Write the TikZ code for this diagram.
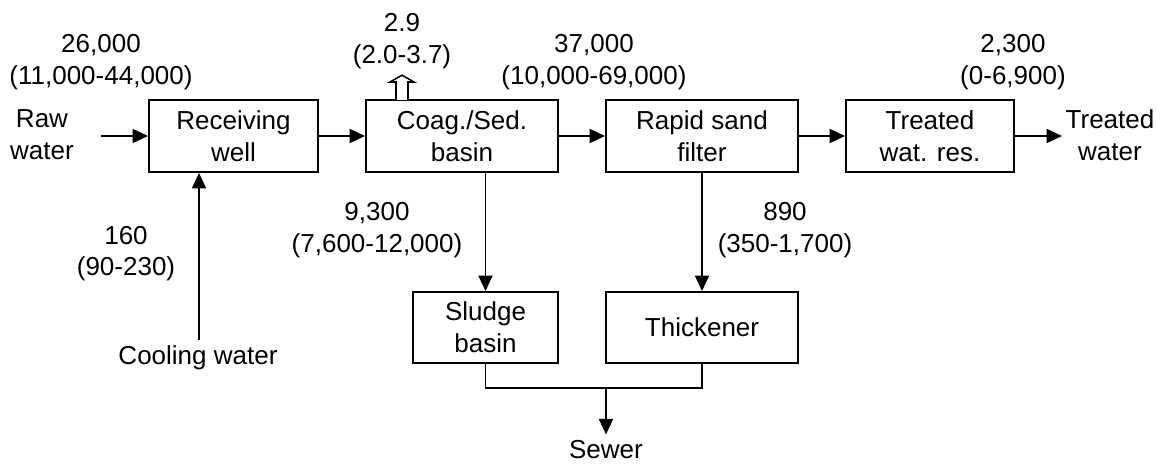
\documentclass[tikz,border=0pt]{standalone}
\usepackage{fontspec}
\setmainfont{Liberation Sans}
\usetikzlibrary{arrows.meta}

\begin{document}
\begin{tikzpicture}[
        font=\fontsize{18.5}{22.7}\selectfont,
        proc/.style={draw, line width=1.4pt, align=center, inner sep=0pt, minimum height=1.8cm},
        lbl/.style={align=center, inner sep=0pt},
        flow/.style={-{Triangle[length=11pt, width=10pt]}, line width=1.3pt}
    ]

        \useasboundingbox (0,0) rectangle (29,11.6);

        \node [proc, minimum width=4.225cm] (recv) at (5.8375, 8.2) {Receiving\\well};
        \node [proc, minimum width=4.8cm] (coag) at (11.55, 8.2) {Coag./Sed.\\basin};
        \node [proc, minimum width=4.8cm] (rapid) at (17.55, 8.2) {Rapid sand\\filter};
        \node [proc, minimum width=4.2cm] (treat) at (23.25, 8.2) {Treated\\wat. res.};
        \node [proc, minimum width=3.625cm, minimum height=1.775cm] (sludge) at (12.1375, 3.4125) {Sludge\\basin};
        \node [proc, minimum width=4.8cm, minimum height=1.775cm] (thick) at (17.55, 3.4125) {Thickener};

        \node [lbl] (raw) at (1.05, 8.225) {Raw\\water};
        \node [lbl] (tw) at (27.75, 8.225) {Treated\\water};
        \node [lbl] (cool) at (4.95, 2.65) {Cooling water};
        \node [lbl, anchor=north, inner ysep=0.15cm] (sewer) at (15.15, 0.74) {Sewer};

        \node [lbl] (qraw) at (2.525, 10.04) {26,000\\(11,000-44,000)};
        \node [lbl] (qvent) at (10.05, 10.575) {2.9\\(2.0-3.7)};
        \node [lbl] (qfilt) at (14.85, 10.04) {37,000\\(10,000-69,000)};
        \node [lbl] (qout) at (25.325, 10.04) {2,300\\(0-6,900)};
        \node [lbl] (qsed) at (9.425, 5.85) {9,300\\(7,600-12,000)};
        \node [lbl] (qwash) at (19.625, 5.85) {890\\(350-1,700)};
        \node [lbl] (qcool) at (3.15, 5.26) {160\\(90-230)};

        \coordinate (rawin) at (2.525, 8.2);
        \coordinate (twout) at (26.55, 8.2);
        \coordinate (coolin) at (4.975, 3.1);
        \coordinate (vent) at (10.05, 9.1);
        \coordinate (merge) at (15.15, 1.9);

        % main line
        \draw [flow] (rawin) -- (recv);
        \draw [flow] (recv) -- (coag);
        \draw [flow] (coag) -- (rapid);
        \draw [flow] (rapid) -- (treat);
        \draw [flow] (treat) -- (twout);
        \draw [flow] (coolin) -- (coolin |- recv.south);

        % sludge lines
        \draw [flow] (coag.south -| sludge.north) -- (sludge.north);
        \draw [flow] (rapid) -- (thick);
        \draw [line width=1.3pt] (sludge.south) |- (merge) -| (thick.south);
        \draw [flow] (merge) -- (sewer.north);

        % off-gas
        \draw [line width=1.1pt, fill=white] (vent) ++(-0.15,0) -- ++(0,0.45) -- ++(-0.15,0)
            -- ++(0.3,0.17) -- ++(0.3,-0.17) -- ++(-0.15,0) -- ++(0,-0.45);

    \end{tikzpicture}
\end{document}
